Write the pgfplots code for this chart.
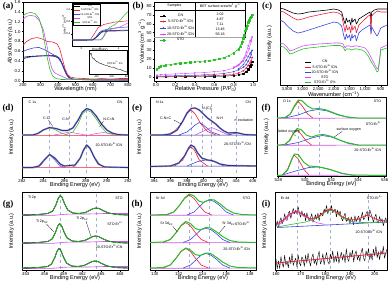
\documentclass[border=0pt]{standalone}
\usepackage{fontspec}
\setmainfont{Liberation Sans}
\newfontfamily\serifpanel{Liberation Serif}
\usepackage{pgfplots}
\pgfplotsset{compat=1.18}
\definecolor{cred}{RGB}{235,30,60}
\definecolor{cblue}{RGB}{60,70,225}
\definecolor{cmag}{RGB}{210,80,240}
\definecolor{cgreen}{RGB}{40,190,40}
\definecolor{cnavy}{RGB}{30,30,150}
\definecolor{cenv}{RGB}{45,45,170}
\definecolor{cvl}{RGB}{165,175,210}
\definecolor{cdata}{RGB}{150,150,160}
\newcommand\fs{\fontsize{4.3}{5}\selectfont}
\newcommand\fl{\fontsize{5.6}{6}\selectfont}
\newcommand\ft{\fontsize{3.6}{4}\selectfont}
\newcommand\Er{Er\textsuperscript{3+}}
\pgfplotsset{
 base/.style={scale only axis, anchor=north west, tick label style={font=\fs, inner sep=0.8pt}, label style={font=\fl, inner sep=0.8pt},
   every tick/.style={black,line width=0.35pt}, major tick length=1.5pt, tick align=outside,
   xtick pos=left, ytick pos=left, axis line style={line width=0.5pt},
   xlabel style={yshift=1.5pt},
   /pgf/number format/assume math mode=true, line join=round},
 xps/.style={base, y dir=reverse, ytick=\empty, ylabel={Intensity (a.u.)}, xlabel={Binding Energy (eV)},
   ylabel style={yshift=5.5pt}},
 lg/.style={legend image code/.code={\draw[##1,line width=0.6pt] (0pt,0pt) -- (6pt,0pt);}},
}
\begin{document}
\begin{tikzpicture}
\useasboundingbox (0pt,0pt) rectangle (390pt,-287pt);
% ================= (a)
\begin{axis}[base, at={(23pt,-2pt)}, width=105pt, height=79pt, xmin=200, xmax=800, ymin=0, ymax=1.6,
  xtick={200,300,400,500,600,700,800}, ytick={0,0.2,0.4,0.6,0.8,1.0,1.2,1.4,1.6},
  yticklabel style={/pgf/number format/fixed,/pgf/number format/precision=1,/pgf/number format/fixed zerofill},
  xlabel={Wavelength (nm)}, ylabel={\itshape Absorbance (a.u.)}]
\addplot[black,line width=0.6pt] coordinates {(200,0.48)(220,0.49)(250,0.5)(300,0.51)(350,0.51)(380,0.5)(400,0.47)(420,0.38)(440,0.2)(460,0.08)(480,0.04)(500,0.03)(600,0.02)(700,0.02)(800,0.02)};
\addplot[cnavy,line width=0.6pt] coordinates {(200,0.45)(230,0.48)(270,0.5)(320,0.51)(360,0.52)(390,0.51)(410,0.46)(430,0.3)(450,0.12)(470,0.05)(500,0.03)(800,0.02)};
\addplot[cred,line width=0.6pt] coordinates {(200,0.72)(220,0.8)(250,0.86)(280,0.88)(310,0.85)(340,0.8)(370,0.79)(395,0.75)(410,0.65)(425,0.45)(440,0.25)(455,0.13)(470,0.08)(500,0.06)(550,0.05)(600,0.04)(650,0.05)(700,0.04)(750,0.05)(800,0.05)};
\addplot[cblue,line width=0.6pt] coordinates {(200,0.6)(230,0.64)(260,0.67)(290,0.68)(320,0.64)(350,0.58)(380,0.52)(400,0.48)(415,0.4)(430,0.28)(445,0.15)(460,0.07)(480,0.04)(550,0.03)(800,0.02)};
\addplot[cmag,line width=0.6pt] coordinates {(200,1.25)(220,1.31)(245,1.33)(270,1.31)(295,1.22)(315,1.05)(335,0.75)(350,0.45)(365,0.25)(380,0.17)(400,0.13)(420,0.1)(450,0.05)(500,0.03)(800,0.02)};
\addplot[cgreen,line width=0.6pt] coordinates {(200,1.32)(220,1.37)(245,1.39)(270,1.36)(290,1.28)(310,1.05)(325,0.75)(340,0.45)(355,0.22)(370,0.1)(390,0.05)(420,0.03)(800,0.02)};
\end{axis}
% inset Tauc
\begin{axis}[base, lg, at={(72pt,-3pt)}, width=56pt, height=43pt, xmin=1.5, xmax=4.5, ymin=0, ymax=1.4,
  xtick={2,3,4}, ytick={0.4,0.8,1.2}, major tick length=1pt,
  tick label style={font=\fontsize{2.8}{3}\selectfont, inner sep=0.5pt}, label style={font=\fontsize{3}{3.2}\selectfont, inner sep=0.5pt},
  xlabel={Energy(eV)}, ylabel={(αhν)\textsuperscript{1/2} (eV)\textsuperscript{1/2}},
  xlabel style={yshift=1pt}, ylabel style={yshift=-1pt},
  axis background/.style={fill=white},
  legend style={at={(0.02,0.98)}, anchor=north west, font=\fontsize{2.5}{2.7}\selectfont, draw=black, line width=0.2pt, inner sep=0.4pt, nodes={inner sep=0.25pt}, row sep=-0.6pt}]
\addplot[black,line width=0.5pt] coordinates {(1.5,0.2)(2.6,0.2)(2.8,0.3)(3.0,0.45)(3.3,0.5)(4.5,0.52)};
\addlegendentry{CN}
\addplot[cred,line width=0.5pt] coordinates {(1.5,0.2)(2.5,0.22)(2.7,0.4)(2.9,0.6)(3.2,0.7)(3.8,0.78)(4.5,0.82)};
\addlegendentry{5-STO:\Er/CN}
\addplot[cblue,line width=0.5pt] coordinates {(1.5,0.2)(2.7,0.22)(2.9,0.38)(3.1,0.5)(3.5,0.56)(4.0,0.6)(4.5,0.62)};
\addlegendentry{10-STO:\Er/CN}
\addplot[cmag,line width=0.5pt] coordinates {(1.5,0.2)(3.0,0.2)(3.2,0.3)(3.4,0.5)(3.6,0.55)(4.0,0.6)(4.5,0.75)};
\addlegendentry{STO}
\addplot[cgreen,line width=0.5pt] coordinates {(1.5,0.2)(3.1,0.2)(3.3,0.45)(3.5,0.6)(3.8,0.7)(4.1,0.85)(4.3,1.0)(4.5,1.12)};
\addlegendentry{STO:\Er\ 0\%}
\addplot[cnavy,line width=0.5pt,forget plot] coordinates {(1.5,0.18)(2.6,0.19)(2.85,0.3)(3.1,0.45)(3.4,0.48)(4.5,0.5)};
\end{axis}
% inset 2
\begin{axis}[base, at={(89pt,-50pt)}, width=38pt, height=24pt, xmin=300, xmax=800, ymin=0, ymax=1,
  xtick={400,600,800}, ytick=\empty, major tick length=1pt,
  tick label style={font=\fontsize{2.6}{3}\selectfont, inner sep=0.4pt}, axis background/.style={fill=white}]
\addplot[black,line width=0.35pt] coordinates {(300,0.95)(310,0.9)(320,0.82)(330,0.86)(340,0.7)(350,0.66)(360,0.62)(370,0.64)(380,0.58)(390,0.55)(400,0.52)(420,0.5)(440,0.45)(460,0.44)(480,0.4)(500,0.38)(520,0.36)(540,0.35)(560,0.32)(580,0.3)(600,0.28)(620,0.29)(640,0.26)(660,0.22)(680,0.2)(700,0.2)(720,0.18)(740,0.15)(760,0.12)(780,0.1)(800,0.08)};
\node[font=\fontsize{2.6}{3}\selectfont] at (axis cs:640,0.48) {STO:\Er\ 0\%};
\end{axis}
% ================= (b)
\begin{axis}[base, at={(154pt,-2pt)}, width=103pt, height=79pt, xmin=-0.02, xmax=1.04, ymin=-4.5, ymax=84.5,
  xtick={0,0.2,0.4,0.6,0.8,1.0}, ytick={0,10,20,30,40,50,60,70,80},
  xticklabel style={/pgf/number format/fixed,/pgf/number format/precision=1,/pgf/number format/fixed zerofill},
  xlabel={Relative Pressure (P/P\textsubscript{0})}, ylabel={Volume (cm\textsuperscript{3} g\textsuperscript{−1})},
  every axis plot/.append style={mark size=0.75pt, line width=0.4pt},
  legend image code/.code={\draw[mark repeat=2,mark phase=2,#1] plot coordinates {(0pt,0pt) (3pt,0pt) (6pt,0pt)};},
  legend style={at={(0.03,0.885)}, anchor=north west, draw=none, fill=none, font=\ft, nodes={inner sep=0.55pt}, row sep=0pt}]
\addplot[black,mark=square*] coordinates {(0.01,0)(0.1,0.2)(0.2,0.3)(0.3,0.4)(0.4,0.5)(0.5,0.6)(0.6,0.8)(0.7,1.1)(0.8,1.6)(0.85,2.5)(0.9,4)(0.93,6)(0.95,9)(0.97,12)(0.98,14)(0.99,17)};
\addlegendentry{CN}
\addplot[cred,mark=*] coordinates {(0.01,0.5)(0.1,0.7)(0.2,0.9)(0.3,1)(0.4,1.2)(0.5,1.4)(0.6,1.6)(0.7,2.2)(0.8,3)(0.85,4.5)(0.9,7)(0.93,10)(0.95,13)(0.97,16)(0.98,18)(0.99,22)};
\addlegendentry{5-STO:\Er/CN}
\addplot[cblue,mark=triangle*] coordinates {(0.01,1)(0.1,1.2)(0.2,1.5)(0.3,1.7)(0.4,2)(0.5,2.5)(0.6,3)(0.7,4)(0.8,6)(0.85,8)(0.9,11)(0.93,14)(0.95,18)(0.97,22)(0.98,25)(0.99,30)(0.97,27)(0.95,23)(0.93,19)(0.9,14)(0.85,9)};
\addlegendentry{10-STO:\Er/CN}
\addplot[cmag,mark=triangle*,mark options={rotate=180}] coordinates {(0.01,2)(0.05,2.6)(0.1,3)(0.2,3.5)(0.3,4)(0.4,4.5)(0.5,5)(0.6,6)(0.7,7)(0.8,10)(0.85,13)(0.9,18)(0.93,24)(0.96,32)(0.98,40)(0.99,45)(0.97,41)(0.95,35)(0.93,28)(0.91,22)(0.88,17)(0.85,14)(0.8,11)};
\addlegendentry{20-STO:\Er/CN}
\addplot[cgreen,mark=square*] coordinates {(0.01,9)(0.03,11)(0.05,12)(0.08,13)(0.1,13.5)(0.15,14)(0.2,15)(0.25,15.5)(0.3,16)(0.35,16.5)(0.4,17)(0.45,17.5)(0.5,18)(0.55,18.5)(0.6,19.5)(0.65,20.5)(0.7,22)(0.75,24)(0.8,27)(0.85,32)(0.88,38)(0.9,44)(0.92,52)(0.94,58)(0.96,64)(0.98,68)(0.99,70)(0.97,67)(0.95,62)(0.93,55)(0.91,47)(0.89,40)(0.87,34)(0.85,31)(0.8,27.5)};
\addlegendentry{STO}
\draw[line width=0.3pt] (axis cs:-0.02,75.5) -- (axis cs:0.917,75.5);
\draw[line width=0.3pt] (axis cs:0.402,84.5) -- (axis cs:0.402,44);
\draw[line width=0.3pt] (axis cs:0.917,84.5) -- (axis cs:0.917,44);
\draw[line width=1pt, gray!70] (axis cs:-0.02,44) -- (axis cs:0.917,44);
\node[font=\ft] at (axis cs:0.19,80) {Samples};
\node[font=\ft] at (axis cs:0.66,80) {BET surface area/m\textsuperscript{2} g\textsuperscript{−1}};
\node[font=\ft] at (axis cs:0.66,71) {2.02};
\node[font=\ft] at (axis cs:0.66,65.4) {4.87};
\node[font=\ft] at (axis cs:0.66,59.7) {7.11};
\node[font=\ft] at (axis cs:0.66,54.1) {13.46};
\node[font=\ft] at (axis cs:0.66,48.5) {56.18};
\end{axis}
% ================= (c)
\begin{axis}[base, lg, at={(280pt,-2pt)}, width=107pt, height=83pt, x dir=reverse, xmin=300, xmax=3720,
  y dir=reverse, ymin=2, ymax=85, ytick=\empty, xtick={500,1000,1500,2000,2500,3000,3500},
  xlabel={Wavenumber (cm\textsuperscript{−1})}, ylabel={Intensity (a.u.)}, ylabel style={yshift=5.5pt},
  legend style={at={(0.2,0.33)}, anchor=north west, draw=none, fill=none, font=\ft, nodes={inner sep=0.3pt}, row sep=-0.3pt}]
\addplot[black,line width=0.6pt] coordinates {(3720,8)(3600,9)(3450,11)(3300,13)(3150,14)(3000,13.5)(2800,12)(2500,11)(2200,10)(2000,9)(1850,10)(1750,12)(1680,20)(1640,24)(1600,18)(1560,22)(1500,20)(1460,25)(1420,18)(1400,22)(1320,19)(1280,24)(1240,22)(1200,19)(1100,17)(1000,15)(900,13)(840,12)(810,21)(790,12)(700,10)(600,9)(500,9)(300,9)};
\addlegendentry{CN}
\addplot[cred,line width=0.6pt] coordinates {(3720,11)(3600,12)(3450,15)(3300,18)(3150,20)(3000,19)(2800,17)(2500,15)(2200,13)(2000,12)(1850,13)(1750,15)(1680,26)(1640,32)(1600,25)(1560,30)(1500,27)(1460,33)(1420,25)(1400,30)(1320,26)(1280,33)(1240,29)(1200,25)(1100,22)(1000,19)(900,16)(840,15)(810,34)(790,16)(700,13)(600,11)(500,12)(300,12)};
\addlegendentry{5-STO:\Er/CN}
\addplot[cblue,line width=0.6pt] coordinates {(3720,20)(3600,22)(3450,27)(3300,31)(3150,33)(3000,32)(2800,30)(2500,27)(2200,24)(2000,22)(1850,23)(1750,26)(1680,36)(1640,40)(1600,34)(1560,38)(1500,35)(1460,41)(1420,34)(1400,38)(1320,35)(1280,41)(1240,37)(1200,33)(1100,30)(1000,28)(900,26)(840,25)(810,33)(790,27)(700,32)(620,36)(580,34)(500,28)(300,25)};
\addlegendentry{20-STO:\Er/CN}
\addplot[cmag,line width=0.6pt] coordinates {(3720,43)(3600,44)(3500,47)(3400,51)(3300,50)(3150,48)(3000,46)(2800,45)(2500,44)(2200,43.5)(2000,43)(1800,43)(1700,44)(1640,48)(1600,46)(1500,46)(1420,47)(1350,46)(1250,46)(1100,47)(1000,48)(900,52)(800,58)(700,64)(620,69)(580,68)(540,60)(500,48)(300,45)};
\addlegendentry{STO}
\addplot[cgreen,line width=0.6pt] coordinates {(3720,46)(3600,47)(3500,50)(3400,54)(3300,53)(3150,51)(3000,49)(2800,48)(2500,47)(2200,46)(2000,45.5)(1800,45.5)(1700,47)(1640,51)(1600,49)(1500,49)(1420,50)(1350,49)(1250,49)(1100,50)(1000,52)(900,56)(800,62)(700,67)(620,72)(580,71)(540,62)(500,50)(300,48)};
\addlegendentry{STO:\Er\ 0\%}
\end{axis}
% ================= (d)
\begin{axis}[xps, at={(22pt,-97pt)}, width=106pt, height=80pt, xmin=282, xmax=292, ymin=97, ymax=177,
  xtick={282,284,286,288,290,292}]
\draw[cvl,dashed,line width=0.5pt] (axis cs:284.6,104) -- (axis cs:284.6,175);
\draw[cvl,dashed,line width=0.5pt] (axis cs:286.5,104) -- (axis cs:286.5,175);
\draw[cvl,dashed,line width=0.5pt] (axis cs:288.1,104) -- (axis cs:288.1,175);
\addplot[cred,line width=0.5pt] coordinates {(282,135.5)(292,135.3)};
\addplot[cgreen,line width=0.5pt] coordinates {(282,135.2)(283,135)(283.6,133)(284.1,129.5)(284.6,128)(285.1,129.5)(285.7,133)(286.3,135)};
\addplot[cmag,line width=0.5pt] coordinates {(285,135)(285.8,133.5)(286.5,132)(287.2,133.5)(288,135)};
\addplot[cmag,line width=0.5pt] coordinates {(288.3,135)(289,133.5)(289.7,132.5)(290.4,133.5)(291.2,135)};
\addplot[cgreen,line width=0.5pt] coordinates {(286,135)(286.8,132)(287.3,124)(287.7,114)(288.1,110)(288.5,112)(289,119)(289.5,127)(290,133)(290.7,135)};
\addplot[cdata,line width=1.6pt] coordinates {(282,135)(283,135)(283.5,133.5)(284,130)(284.6,127.5)(285.2,128.5)(285.8,130.5)(286.3,130.5)(286.8,128)(287.3,120)(287.7,112)(288.1,108.5)(288.5,110)(289,116)(289.5,124)(290,130)(290.5,133)(291,134.5)(292,135)};
\addplot[cenv,line width=0.8pt] coordinates {(282,135)(283,135)(283.5,133.5)(284,130)(284.6,127.5)(285.2,128.5)(285.8,130.5)(286.3,130.5)(286.8,128)(287.3,120)(287.7,112)(288.1,108.5)(288.5,110)(289,116)(289.5,124)(290,130)(290.5,133)(291,134.5)(292,135)};
\addplot[cred,line width=0.5pt] coordinates {(282,167.8)(292,167.3)};
\addplot[cblue,line width=0.5pt] coordinates {(283.3,167.5)(283.8,165)(284.2,159)(284.6,155)(285,159)(285.5,165)(286,167.5)};
\addplot[cmag,line width=0.5pt] coordinates {(285.3,167.5)(286,165.5)(286.7,166)(287.3,167.5)};
\addplot[cgreen,line width=0.5pt] coordinates {(286.8,167.5)(287.3,162)(287.7,153)(288.1,146)(288.5,150)(288.9,158)(289.4,165)(290,167.5)};
\addplot[cdata,line width=1.6pt] coordinates {(282,167.5)(283,167.5)(283.6,166)(284.1,160)(284.6,154.5)(285.1,158)(285.6,164)(286,166)(286.5,165.5)(287,165)(287.5,158)(287.8,150)(288.1,145)(288.4,148)(288.8,157)(289.2,164)(289.8,167)(292,167.5)};
\addplot[cenv,line width=0.8pt] coordinates {(282,167.5)(283,167.5)(283.6,166)(284.1,160)(284.6,154.5)(285.1,158)(285.6,164)(286,166)(286.5,165.5)(287,165)(287.5,158)(287.8,150)(288.1,145)(288.4,148)(288.8,157)(289.2,164)(289.8,167)(292,167.5)};
\node[font=\ft,anchor=west] at (axis cs:282.3,102) {C 1s};
\node[font=\ft,anchor=east] at (axis cs:291.8,102) {CN};
\node[font=\ft,anchor=east] at (axis cs:291.8,145) {20-STO:\Er/CN};
\node[font=\ft] at (axis cs:284.3,118) {C-C};
\draw[line width=0.25pt] (axis cs:284.5,120) -- (axis cs:284.9,126.5);
\node[font=\ft] at (axis cs:286.1,119) {C-N};
\node[font=\ft] at (axis cs:290.2,119) {N-C=N};
\draw[line width=0.25pt] (axis cs:289.7,121) -- (axis cs:289.3,127);
\end{axis}
% ================= (e)
\begin{axis}[xps, at={(150pt,-97pt)}, width=106pt, height=80pt, xmin=393.5, xmax=406.4, ymin=97, ymax=177,
  xtick={394,396,398,400,402,404,406}]
\draw[cvl,dashed,line width=0.5pt] (axis cs:398.5,104) -- (axis cs:398.5,175);
\draw[cvl,dashed,line width=0.5pt] (axis cs:399.9,104) -- (axis cs:399.9,175);
\draw[cvl,dashed,line width=0.5pt] (axis cs:401,104) -- (axis cs:401,175);
\draw[cvl,dashed,line width=0.5pt] (axis cs:404,104) -- (axis cs:404,175);
\addplot[cnavy,line width=0.5pt] coordinates {(393.5,135.3)(406.4,135.1)};
\addplot[cred,line width=0.6pt] coordinates {(395.5,135)(396.5,131)(397.3,124)(398,114)(398.5,110)(399,114)(399.7,124)(400.5,131.5)(401.5,135)};
\addplot[cblue,line width=0.6pt] coordinates {(397,135)(398,132)(399,125)(399.5,122.5)(400,125)(401,132)(402,135)};
\addplot[cmag,line width=0.6pt] coordinates {(399,135)(400,131)(401,127.5)(402,131)(403,135)};
\addplot[cnavy,line width=0.5pt] coordinates {(403,135)(403.7,133.5)(404.3,133)(405,134.5)(405.6,135)};
\addplot[cdata,line width=1.6pt] coordinates {(393.5,135)(395,135)(396,134)(396.8,130)(397.5,121)(398,113)(398.5,108.5)(399,108)(399.5,110)(400,114)(400.5,118)(401,121)(401.5,124)(402,128)(402.5,131)(403,133)(404,132.5)(404.5,133.5)(405,134.5)(406.4,135)};
\addplot[cenv,line width=0.8pt] coordinates {(393.5,135)(395,135)(396,134)(396.8,130)(397.5,121)(398,113)(398.5,108.5)(399,108)(399.5,110)(400,114)(400.5,118)(401,121)(401.5,124)(402,128)(402.5,131)(403,133)(404,132.5)(404.5,133.5)(405,134.5)(406.4,135)};
\addplot[cnavy,line width=0.5pt] coordinates {(393.5,166.3)(406.4,166)};
\addplot[cred,line width=0.6pt] coordinates {(396.5,166)(397.5,160)(398.1,150)(398.5,147)(398.9,150)(399.5,160)(400.5,166)};
\addplot[cblue,line width=0.6pt] coordinates {(398,166)(399.3,161.5)(400.3,160)(401.3,161.5)(402.5,166)};
\addplot[cdata,line width=1.6pt] coordinates {(393.5,166.5)(396,166)(397,163)(397.7,156)(398.2,148)(398.5,145)(398.9,147)(399.3,153)(399.8,158)(400.5,160)(401,160.5)(401.5,162)(402,164)(403,165.5)(406.4,166)};
\addplot[cenv,line width=0.8pt] coordinates {(393.5,166.5)(396,166)(397,163)(397.7,156)(398.2,148)(398.5,145)(398.9,147)(399.3,153)(399.8,158)(400.5,160)(401,160.5)(401.5,162)(402,164)(403,165.5)(406.4,166)};
\node[font=\ft,anchor=west] at (axis cs:393.8,102) {N 1s};
\node[font=\ft,anchor=east] at (axis cs:406.2,102) {CN};
\node[font=\ft,anchor=east] at (axis cs:406.2,144) {20-STO:\Er/CN};
\node[font=\ft] at (axis cs:395.4,118) {C-N=C};
\draw[line width=0.25pt] (axis cs:396.4,120) -- (axis cs:397.3,124);
\node[font=\ft] at (axis cs:400.5,109) {N-(C)\textsubscript{3}};
\node[font=\ft] at (axis cs:402,118) {N-H};
\node[font=\ft] at (axis cs:404.9,120) {π excitation};
\end{axis}
% ================= (f)
\begin{axis}[xps, at={(277pt,-97pt)}, width=109pt, height=79pt, xmin=527.9, xmax=536.1, ymin=97, ymax=176,
  xtick={528,530,532,534,536}]
\draw[cvl,dashed,line width=0.5pt] (axis cs:529.5,100) -- (axis cs:529.5,176);
\draw[cvl,dashed,line width=0.5pt] (axis cs:531.1,100) -- (axis cs:531.1,176);
\addplot[cmag,line width=0.6pt] coordinates {(527.9,118.3)(536.1,118.1)};
\addplot[cred,line width=0.6pt] coordinates {(528.5,118)(528.9,114)(529.2,107)(529.5,101.5)(529.8,106)(530.2,114)(530.6,118)};
\addplot[cblue,line width=0.6pt] coordinates {(528.5,118)(529.5,115)(530.3,111)(531,109.5)(531.7,111)(532.5,115)(533.5,118)};
\addplot[cgreen,line width=1pt] coordinates {(527.9,118)(528.5,117.5)(528.9,114)(529.2,106)(529.5,100)(529.8,101)(530.2,106)(530.6,109)(531,108.5)(531.5,109.5)(532,112)(532.6,115)(533.2,117)(534,118)(536.1,118)};
\addplot[cmag,line width=0.6pt] coordinates {(527.9,145.3)(536.1,145.1)};
\addplot[cred,line width=0.6pt] coordinates {(528.4,145)(528.8,141)(529.1,134)(529.4,129.5)(529.7,134)(530.1,141)(530.5,145)};
\addplot[cblue,line width=0.6pt] coordinates {(528.5,145)(529.5,142.5)(530.5,138)(531.3,135.5)(532,137)(533,142)(534,145)};
\addplot[cgreen,line width=1pt] coordinates {(527.9,145)(528.5,144.5)(528.9,140)(529.1,134)(529.4,128.5)(529.7,129.5)(530.1,135)(530.5,137)(531,135)(531.4,134.5)(532,136.5)(532.6,140)(533.3,143.5)(534,145)(536.1,145)};
\addplot[cmag,line width=0.6pt] coordinates {(527.9,175.3)(536.1,175.1)};
\addplot[cred,line width=0.6pt] coordinates {(528.3,175)(528.7,169)(529,159)(529.2,155)(529.5,159)(529.9,169)(530.3,175)};
\addplot[cblue,line width=0.6pt] coordinates {(528.3,175)(529.3,171)(530.3,167.5)(531,167)(531.8,169)(532.8,173.5)(533.8,175.5)};
\addplot[cgreen,line width=1pt] coordinates {(527.9,175.5)(528.3,175)(528.7,170)(529,160)(529.2,154)(529.5,154.5)(529.9,162)(530.3,166)(530.8,166.5)(531.3,167.5)(532,170)(532.7,173)(533.5,175)(536.1,175.5)};
\node[font=\ft,anchor=west] at (axis cs:528.1,101) {O 1s};
\node[font=\ft,anchor=east] at (axis cs:536,101) {STO};
\node[font=\ft,anchor=east] at (axis cs:536,124) {STO:\Er};
\node[font=\ft,anchor=east] at (axis cs:536,150) {20-STO:\Er/CN};
\node[font=\ft] at (axis cs:528.8,132) {lattice oxygen};
\draw[line width=0.25pt] (axis cs:529.1,133.5) -- (axis cs:529.3,136);
\node[font=\ft] at (axis cs:533.3,130) {surface oxygen};
\draw[line width=0.25pt] (axis cs:532.8,131.5) -- (axis cs:532.2,137);
\end{axis}
% ================= (g)
\begin{axis}[xps, at={(22pt,-192pt)}, width=106pt, height=78pt, xmin=452.4, xmax=469.3, ymin=192, ymax=270,
  xtick={453,456,459,462,465,468}]
\draw[cvl,dashed,line width=0.5pt] (axis cs:458.5,194) -- (axis cs:458.5,270);
\draw[cvl,dashed,line width=0.5pt] (axis cs:464.2,194) -- (axis cs:464.2,270);
\addplot[cmag,line width=0.6pt] coordinates {(452.4,215.5)(457.5,215.3)(459.5,214.2)(463,214)(465.5,213.5)(469.3,213.5)};
\addplot[black,line width=0.9pt] coordinates {(452.4,215)(455,214.5)(456.5,213.5)(457.3,211)(457.8,205)(458.2,198)(458.5,195.5)(458.8,197.5)(459.2,204)(459.7,210)(460.5,213)(461.5,213.5)(462.5,212.5)(463.3,210)(463.8,208.5)(464.2,208)(464.7,208.5)(465.3,210.5)(466.2,213)(467.5,214.5)(469.3,215)};
\addplot[cgreen,line width=0.7pt] coordinates {(452.4,215)(455,214.5)(456.5,213.5)(457.3,211)(457.8,205)(458.2,198)(458.5,195.5)(458.8,197.5)(459.2,204)(459.7,210)(460.5,213)(461.5,213.5)(462.5,212.5)(463.3,210)(463.8,208.5)(464.2,208)(464.7,208.5)(465.3,210.5)(466.2,213)(467.5,214.5)(469.3,215)};
\addplot[cmag,line width=0.6pt] coordinates {(452.4,243.5)(457.4,243.3)(459.4,242.2)(463,242)(465.5,241.5)(469.3,241.5)};
\addplot[black,line width=0.9pt] coordinates {(452.4,243)(455,242.5)(456.5,241.5)(457.2,239)(457.7,233)(458.1,226)(458.4,223.5)(458.7,225.5)(459.1,232)(459.6,238)(460.4,241)(461.4,241.5)(462.4,240.5)(463.2,238)(463.7,236.5)(464.1,236)(464.6,236.5)(465.2,238.5)(466.1,241)(467.4,242.5)(469.3,243)};
\addplot[cgreen,line width=0.7pt] coordinates {(452.4,243)(455,242.5)(456.5,241.5)(457.2,239)(457.7,233)(458.1,226)(458.4,223.5)(458.7,225.5)(459.1,232)(459.6,238)(460.4,241)(461.4,241.5)(462.4,240.5)(463.2,238)(463.7,236.5)(464.1,236)(464.6,236.5)(465.2,238.5)(466.1,241)(467.4,242.5)(469.3,243)};
\addplot[cmag,line width=0.6pt] coordinates {(452.4,268.5)(457.3,268.3)(459.3,267.2)(463,267)(465.5,266.5)(469.3,266.5)};
\addplot[black,line width=0.9pt] coordinates {(452.4,268)(455,267.5)(456.5,266.5)(457.1,264)(457.6,258)(458,251)(458.3,248.5)(458.6,250.5)(459,257)(459.5,263)(460.3,266)(461.3,266.5)(462.3,265.5)(463.1,263)(463.6,261.5)(464,261)(464.5,261.5)(465.1,263.5)(466,266)(467.3,267.5)(469.3,268)};
\addplot[cgreen,line width=0.7pt] coordinates {(452.4,268)(455,267.5)(456.5,266.5)(457.1,264)(457.6,258)(458,251)(458.3,248.5)(458.6,250.5)(459,257)(459.5,263)(460.3,266)(461.3,266.5)(462.3,265.5)(463.1,263)(463.6,261.5)(464,261)(464.5,261.5)(465.1,263.5)(466,266)(467.3,267.5)(469.3,268)};
\node[font=\ft,anchor=west] at (axis cs:452.8,198) {Ti 2p};
\node[font=\ft,anchor=east] at (axis cs:469,198) {STO};
\node[font=\ft,anchor=east] at (axis cs:469,224) {STO:\Er};
\node[font=\ft,anchor=east] at (axis cs:469,247) {20-STO:\Er/CN};
\node[font=\ft] at (axis cs:455.6,222) {Ti 2p\textsubscript{3/2}};
\draw[line width=0.25pt] (axis cs:456.3,224) -- (axis cs:457.5,232);
\node[font=\ft] at (axis cs:462,219) {Ti 2p\textsubscript{1/2}};
\draw[line width=0.25pt] (axis cs:462.6,221) -- (axis cs:463.4,236.5);
\end{axis}
% ================= (h)
\begin{axis}[xps, at={(150pt,-192pt)}, width=106pt, height=78pt, xmin=129.6, xmax=138.5, ymin=192, ymax=270,
  xtick={130,132,134,136,138}]
\draw[cvl,dashed,line width=0.5pt] (axis cs:132.9,194) -- (axis cs:132.9,270);
\draw[cvl,dashed,line width=0.5pt] (axis cs:134.6,194) -- (axis cs:134.6,270);
\addplot[cmag,line width=0.6pt] coordinates {(129.6,215.3)(138.5,215.1)};
\addplot[cred,line width=0.6pt] coordinates {(131,215)(131.6,212)(132.1,205)(132.5,198.5)(132.9,195)(133.3,198.5)(133.7,205)(134.2,212)(134.8,215)};
\addplot[cblue,line width=0.6pt] coordinates {(132.7,215)(133.3,212)(133.8,206)(134.2,201.5)(134.6,200)(135,201.5)(135.5,206)(136,212)(136.6,215)};
\addplot[cgreen,line width=1pt] coordinates {(129.6,215)(131,214.5)(131.6,212)(132.1,205)(132.5,198)(132.9,194)(133.3,196)(133.7,201)(134.1,202.5)(134.6,199.5)(135,200)(135.5,204)(136,209)(136.6,213)(137.3,214.5)(138.5,215)};
\addplot[cmag,line width=0.6pt] coordinates {(129.6,242.8)(138.5,242.6)};
\addplot[cred,line width=0.6pt] coordinates {(130.7,242.5)(131.3,239.5)(131.8,232.5)(132.2,226)(132.6,222.5)(133,226)(133.4,232.5)(133.9,239.5)(134.5,242.5)};
\addplot[cblue,line width=0.6pt] coordinates {(132.4,242.5)(133,239.5)(133.5,234)(133.9,229.5)(134.3,228.5)(134.7,229.5)(135.2,234)(135.7,239.5)(136.3,242.5)};
\addplot[cgreen,line width=1pt] coordinates {(129.6,242.5)(130.7,242)(131.3,239.5)(131.8,232.5)(132.2,225.5)(132.6,221.5)(133,223.5)(133.4,228.5)(133.8,230)(134.3,227.5)(134.7,228)(135.2,232)(135.7,236.5)(136.3,240.5)(137,242)(138.5,242.5)};
\addplot[cmag,line width=0.6pt] coordinates {(129.6,268.3)(138.5,268.1)};
\addplot[cred,line width=0.6pt] coordinates {(130.7,268)(131.3,265)(131.8,258)(132.2,251.5)(132.6,248.5)(133,251.5)(133.4,258)(133.9,265)(134.5,268)};
\addplot[cblue,line width=0.6pt] coordinates {(132.4,268)(133,265)(133.5,259.5)(133.9,255)(134.3,253.5)(134.7,255)(135.2,259.5)(135.7,265)(136.3,268)};
\addplot[cgreen,line width=1pt] coordinates {(129.6,268)(130.7,267.5)(131.3,265)(131.8,258)(132.2,251.5)(132.6,248)(133,250)(133.4,254.5)(133.8,255.5)(134.3,253)(134.7,253.5)(135.2,257.5)(135.7,262)(136.3,266)(137,267.5)(138.5,268)};
\node[font=\ft,anchor=west] at (axis cs:129.8,198) {Sr 3d};
\node[font=\ft,anchor=east] at (axis cs:138.3,198) {STO};
\node[font=\ft,anchor=east] at (axis cs:138.3,224) {STO:\Er};
\node[font=\ft,anchor=east] at (axis cs:138.3,249) {20-STO:\Er/CN};
\node[font=\ft] at (axis cs:131,224) {Sr 3d\textsubscript{5/2}};
\draw[line width=0.25pt] (axis cs:131.5,226) -- (axis cs:131.9,232);
\node[font=\ft] at (axis cs:136.2,224) {Sr 3d\textsubscript{3/2}};
\draw[line width=0.25pt] (axis cs:135.9,226) -- (axis cs:135.4,233);
\end{axis}
% ================= (i)
\begin{axis}[xps, at={(275pt,-192pt)}, width=112pt, height=78pt, xmin=159.6, xmax=205, ymin=192, ymax=270,
  xtick={160,170,180,190,200}]
\draw[cvl,dashed,line width=0.5pt] (axis cs:168.5,194) -- (axis cs:168.5,270);
\draw[cvl,dashed,line width=0.5pt] (axis cs:182,194) -- (axis cs:182,270);
\draw[cvl,dashed,line width=0.5pt] (axis cs:197.5,194) -- (axis cs:197.5,270);
\addplot[black,line width=0.4pt] coordinates {(160,226.5)(160.5,220.9)(161,227.2)(161.5,221.4)(162,217.6)(162.5,223.8)(163,221)(163.5,213.8)(164,219.6)(164.5,220.4)(165,213.2)(165.5,211.3)(166,218.5)(166.5,213)(167,208.5)(167.5,213.8)(168,210.2)(168.5,214)(169,206.7)(169.5,213.4)(170,217.1)(170.5,210.8)(171,216.5)(171.5,213.2)(172,221)(172.5,212.7)(173,217.5)(173.5,221.2)(174,218)(174.5,213.6)(175,222.3)(175.5,219)(176,214.7)(176.5,219.3)(177,213)(177.5,221)(178,213)(178.5,214)(179,216)(179.5,209)(180,212)(180.5,205.5)(181,214)(181.5,208.5)(182,211)(182.5,205.5)(183,213)(183.5,210.5)(184,209)(184.5,217)(185,210)(185.5,215)(186,211)(186.5,218)(187,221)(187.5,216.5)(188,213)(188.5,221.5)(189,219)(189.5,217.5)(190,224)(190.5,216.9)(191,220.8)(191.5,224.8)(192,215.7)(192.5,221.6)(193,218.5)(193.5,215.9)(194,222.3)(194.5,217.8)(195,212.2)(195.5,219.6)(196,218)(196.5,213.7)(197,211.3)(197.5,220.5)(198,209.8)(198.5,213.6)(199,217.5)(199.5,222)(200,217.5)(200.5,214)(201,221.5)(201.5,223)(202,216.5)(202.5,221.6)(203,218.7)(203.5,225.7)(204,220.8)(204.5,217.9)(205,223)};
\addplot[cblue,line width=0.6pt] coordinates {(160.5,227.5)(205,222)};
\addplot[cgreen,line width=0.6pt] coordinates {(160.5,227)(166,224.5)(172,222)(177,217.5)(180,212)(182,210)(184,212)(187,218)(190,221.5)(195,222.5)(205,222)};
\addplot[cmag,line width=0.6pt] coordinates {(160.5,227)(163,221)(166,214.5)(168.5,212)(171,215)(174,220)(177,223)(180,224.5)};
\addplot[cred,line width=0.8pt] coordinates {(160.5,224)(163,220)(165.5,214)(168.5,211)(171,214.5)(174,219)(177,217)(180,211)(182,209)(184,211)(187,217)(190,220)(193,219.5)(196,216)(197.5,215)(199,217.5)(202,220.5)(205,221)};
\addplot[black,line width=0.4pt] coordinates {(160,259)(160.5,268.9)(161,260.8)(161.5,268.5)(162,256.6)(162.5,263.4)(163,267.3)(163.5,255.2)(164,265.1)(164.5,261)(165,267.9)(165.5,256.8)(166,263.7)(166.5,253.6)(167,265.4)(167.5,261.3)(168,258.2)(168.5,267.1)(169,255)(169.5,262.9)(170,265.8)(170.5,256.7)(171,259.6)(171.5,266.4)(172,255.3)(172.5,263.2)(173,253.1)(173.5,261)(174,265.9)(174.5,257.8)(175,253.7)(175.5,263.6)(176,259.4)(176.5,265.3)(177,256.2)(177.5,251.1)(178,264)(178.5,260.9)(179,253.8)(179.5,264.7)(180,257.6)(180.5,252.4)(181,261.3)(181.5,264.2)(182,254.1)(182.5,259)(183,250.9)(183.5,262.8)(184,255.7)(184.5,261.6)(185,251.4)(185.5,263.3)(186,257.2)(186.5,252.1)(187,260)(187.5,253.9)(188,262.8)(188.5,248.7)(189,258.6)(189.5,261.4)(190,252.3)(190.5,257.2)(191,250.1)(191.5,262)(192,253.9)(192.5,250.8)(193,259.7)(193.5,255.6)(194,261.4)(194.5,252.3)(195,248.2)(195.5,258.1)(196,261)(196.5,250.9)(197,255.8)(197.5,248.7)(198,259.6)(198.5,253.4)(199,260.3)(199.5,249.2)(200,256.1)(200.5,246)(201,257.9)(201.5,251.8)(202,259.7)(202.5,250.6)(203,254.4)(203.5,246.3)(204,258.2)(204.5,253.1)(205,249)};
\addplot[cred,line width=0.8pt] coordinates {(160,263)(205,253)};
\node[font=\ft,anchor=west] at (axis cs:160.5,198) {Er 4d};
\node[font=\ft,anchor=east] at (axis cs:204.5,198) {STO:\Er};
\node[font=\ft,anchor=east] at (axis cs:204.5,232) {20-STO:\Er/CN};
\end{axis}
% panel letters
\tikzset{pl/.style={font=\serifpanel\bfseries\fontsize{9}{9}\selectfont}}
\node[pl] at (8pt,-6pt) {(a)};
\node[pl] at (138pt,-6pt) {(b)};
\node[pl] at (267pt,-6pt) {(c)};
\node[pl] at (8pt,-108pt) {(d)};
\node[pl] at (137pt,-108pt) {(e)};
\node[pl] at (266pt,-108pt) {(f)};
\node[pl] at (8pt,-204pt) {(g)};
\node[pl] at (137pt,-204pt) {(h)};
\node[pl] at (266pt,-204pt) {(i)};
\end{tikzpicture}
\end{document}
